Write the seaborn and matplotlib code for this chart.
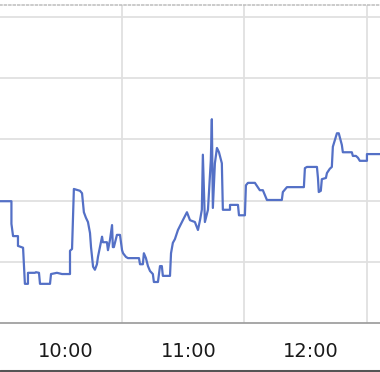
import numpy as np
import pandas as pd
import seaborn as sns
import matplotlib
matplotlib.use("Agg")
import matplotlib.pyplot as plt
import matplotlib.transforms as mtransforms
from matplotlib.lines import Line2D

# time in minutes since midnight, value in chart units
minutes = [570.2, 575.8, 575.8, 576.6, 579.0, 579.0, 581.5, 582.4, 583.9, 583.9,
           587.3, 587.8, 589.3, 589.8, 594.7, 595.2, 598.1, 600.6, 604.5, 604.5,
           605.5, 606.4, 609.4, 610.4, 611.3, 612.3, 613.3, 614.3, 614.8, 615.3,
           615.8, 616.7, 617.7, 618.2, 620.2, 620.6, 622.6, 623.1, 624.1, 625.1,
           625.5, 626.0, 627.5, 629.0, 630.0, 630.5, 631.9, 632.9, 638.3, 638.8,
           640.2, 640.7, 641.7, 642.7, 643.7, 645.1, 645.6, 647.6, 648.6, 649.5,
           650.0, 653.5, 654.0, 654.9, 655.9, 657.4, 659.8, 661.8, 663.3, 665.7,
           667.2, 668.2, 669.1, 669.6, 670.6, 672.1, 673.5, 674.0, 674.5, 675.5,
           676.5, 677.5, 678.9, 679.4, 682.9, 682.9, 686.8, 687.3, 690.2, 690.7,
           691.7, 695.1, 697.5, 699.0, 700.0, 701.0, 708.3, 708.8, 710.8, 719.1,
           719.6, 720.6, 725.5, 726.0, 726.4, 727.4, 727.9, 729.9, 730.4, 731.8,
           732.8, 733.3, 735.3, 736.2, 737.7, 738.2, 742.6, 743.1, 744.6, 745.6,
           746.5, 750.0, 750.0, 756.4]
values = [1.99, 1.99, 1.62, 1.42, 1.42, 1.26, 1.23, 0.64, 0.64, 0.82,
          0.82, 0.83, 0.82, 0.64, 0.64, 0.80, 0.82, 0.80, 0.80, 1.18,
          1.21, 2.19, 2.16, 2.12, 1.81, 1.72, 1.65, 1.47, 1.24, 1.08,
          0.92, 0.87, 0.96, 1.08, 1.41, 1.32, 1.32, 1.19, 1.36, 1.60,
          1.24, 1.24, 1.44, 1.44, 1.19, 1.14, 1.08, 1.06, 1.06, 0.96,
          0.96, 1.14, 1.06, 0.93, 0.85, 0.80, 0.67, 0.67, 0.93, 0.93,
          0.77, 0.77, 1.14, 1.31, 1.37, 1.52, 1.68, 1.81, 1.68, 1.65,
          1.52, 1.68, 1.85, 2.75, 1.65, 1.85, 2.66, 3.33, 1.88, 2.61,
          2.86, 2.79, 2.61, 1.85, 1.85, 1.93, 1.93, 1.76, 1.76, 2.25,
          2.29, 2.29, 2.17, 2.17, 2.09, 2.01, 2.01, 2.14, 2.22, 2.22,
          2.53, 2.55, 2.55, 2.37, 2.14, 2.16, 2.35, 2.37, 2.45, 2.52,
          2.55, 2.88, 3.10, 3.10, 2.91, 2.79, 2.79, 2.73, 2.73, 2.70,
          2.65, 2.65, 2.76, 2.76]

label_minutes = [600, 660, 720]
tick_labels = ["10:00", "11:00", "12:00"]
grid_minutes = [630, 690, 750]
grid_values = [1, 2, 3, 4, 5]

df = pd.DataFrame({"t": minutes, "v": values})

sns.set_theme(style="white")
plt.rcParams["font.family"] = ["DejaVu Sans"]

fig = plt.figure(figsize=(3.8, 3.72), dpi=100)
ax = fig.add_axes([0.0, 49 / 372, 1.0, 318 / 372])

sns.lineplot(data=df, x="t", y="v", sort=False, estimator=None,
             color="#5470c6", linewidth=1.6, ax=ax)

ax.set_xlim(570.2, 756.4)
ax.set_ylim(0, 318 / 61.2)

for g in grid_values:
    ax.axhline(g, color="#e0e0e0", linewidth=1.3, zorder=0)
for g in grid_minutes:
    ax.axvline(g, color="#e0e0e0", linewidth=1.3, zorder=0)

ax.set_yticks([])
ax.set_xticks(grid_minutes)
ax.set_xticklabels([])
ax.tick_params(axis="x", which="major", length=7, width=1.2, color="#cccccc",
               direction="out")
ax.set_xticks(label_minutes, minor=True)
ax.set_xticklabels(tick_labels, minor=True)
ax.tick_params(axis="x", which="minor", length=0, labelsize=14,
               labelcolor="#1a1a1a", pad=14)
offset = mtransforms.ScaledTranslation(5 / 100, 0, fig.dpi_scale_trans)
for lbl in ax.get_xticklabels(minor=True):
    lbl.set_transform(lbl.get_transform() + offset)

ax.set_xlabel("")
ax.set_ylabel("")
for s in ["left", "right"]:
    ax.spines[s].set_visible(False)
ax.spines["bottom"].set_color("#a0a0a0")
ax.spines["bottom"].set_linewidth(1.3)
ax.spines["top"].set_color("#bdbdbd")
ax.spines["top"].set_linewidth(1.1)
ax.spines["top"].set_linestyle((0, (1.3, 1.6)))

# dark strip at the bottom edge
fig.add_artist(Line2D([0, 1], [1.5 / 372, 1.5 / 372], transform=fig.transFigure,
                      color="#555555", linewidth=2.2))

fig.savefig("out.png", dpi=100)
